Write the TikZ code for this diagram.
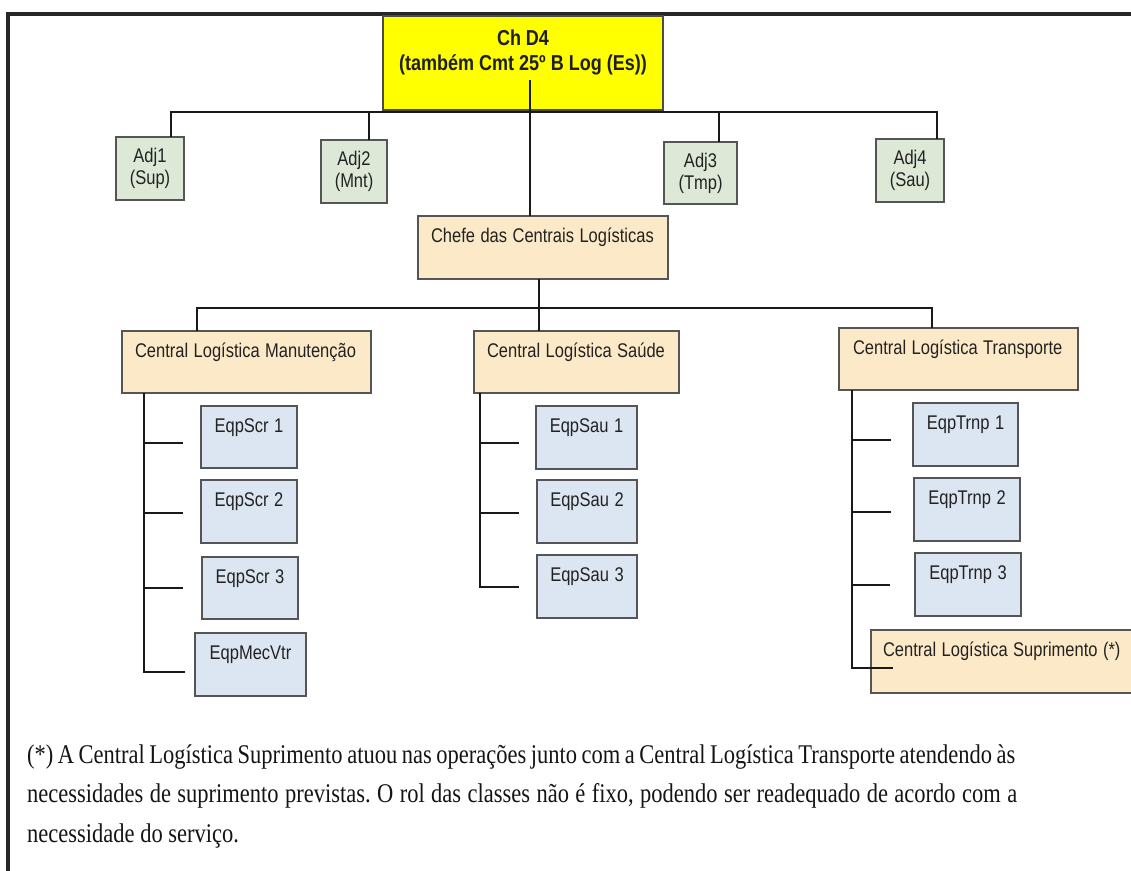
\documentclass[tikz,border=0pt]{standalone}
\usepackage{fontspec}
\setmainfont{Liberation Serif}
\newfontfamily\arialf{Liberation Sans}
\usepackage{graphicx}
\usetikzlibrary{calc}
\definecolor{ylw}{RGB}{255,255,0}
\definecolor{grn}{RGB}{221,232,214}
\definecolor{bge}{RGB}{252,233,199}
\definecolor{blu}{RGB}{220,230,242}
\definecolor{bdr}{RGB}{85,85,85}
\definecolor{txt}{RGB}{34,34,34}
\newcommand\vst[1]{\scalebox{1}[1.2]{#1}}
\newcommand\vsf[1]{\scalebox{1}[1.2]{#1}}
\frenchspacing
\begin{document}
\begin{tikzpicture}[x=1pt,y=-1pt,
  box/.style={draw=bdr, line width=1.6pt, inner sep=0pt, outer sep=0pt, anchor=north west, text=txt,
              font=\arialf\fontsize{16.5}{22}\selectfont},
  adjbox/.style={box, fill=grn, align=center},
  ctrbox/.style={box, fill=bge, inner xsep=13pt, align=left, text height=26pt},
  eqpbox/.style={box, fill=blu, align=center, text height=26pt},
  conn/.style={draw=black!90, line width=2.8pt},
  fnote/.style={anchor=base west, inner sep=0pt, text=black!92, font=\fontsize{22.5}{27}\selectfont},
]
\useasboundingbox (0,0) rectangle (1131,870);
\fill[white] (0,0) rectangle (1131,870);

% frame
\draw[line width=4pt, black!85] (8,872) -- (8,14) -- (1135,14);

% top box
\node[box, fill=ylw, draw=black!70, minimum width=280pt, minimum height=94pt] (top) at (383,16) {};
\node[anchor=north, inner sep=0pt, align=center, text=black!88,
      font=\arialf\bfseries\fontsize{18}{25}\selectfont] (topT) at (523,29.5)
      {\vst{Ch D4}\\\vst{(também Cmt 25º B Log (Es))}};

% adjuncts
\node[adjbox, minimum width=68pt, minimum height=63pt] (adj1) at (116,137) {\vst{Adj1}\\\vst{(Sup)}};
\node[adjbox, minimum width=66pt, minimum height=63pt] (adj2) at (321,140) {\vst{Adj2}\\\vst{(Mnt)}};
\node[adjbox, minimum width=73pt, minimum height=62pt] (adj3) at (664,142) {\vst{Adj3}\\\vst{(Tmp)}};
\node[adjbox, minimum width=68pt, minimum height=63pt] (adj4) at (876,139) {\vst{Adj4}\\\vst{(Sau)}};

% chief and centrals
\node[ctrbox, text width=224pt, text depth=37pt] (chefe) at (418,216) {\vst{Chefe das Centrais Logísticas}};
\node[ctrbox, text width=223pt, text depth=36pt] (clm) at (122,331) {\vst{Central Logística Manutenção}};
\node[ctrbox, text width=179pt, text depth=36pt] (cls) at (474,331) {\vst{Central Logística Saúde}};
\node[ctrbox, text width=211pt, text depth=36pt, inner xsep=14pt] (clt) at (839,328) {\vst{Central Logística Transporte}};
\node[ctrbox, text width=245pt, text depth=37pt, inner xsep=12pt] (sup) at (871,630) {\vst{Central Logística Suprimento (*)}};

% teams
\node[eqpbox, text width=96pt, text depth=36pt] (scr1) at (201,406) {\vst{EqpScr 1}};
\node[eqpbox, text width=96pt, text depth=37pt] (scr2) at (201,480) {\vst{EqpScr 2}};
\node[eqpbox, text width=96pt, text depth=36pt] (scr3) at (202,557) {\vst{EqpScr 3}};
\node[eqpbox, text width=111pt, text depth=37pt] (mec) at (195,633) {\vst{EqpMecVtr}};

\node[eqpbox, text width=101pt, text depth=37pt] (sau1) at (536,406) {\vst{EqpSau 1}};
\node[eqpbox, text width=100pt, text depth=37pt] (sau2) at (537,480) {\vst{EqpSau 2}};
\node[eqpbox, text width=100pt, text depth=37pt] (sau3) at (537,555) {\vst{EqpSau 3}};

\node[eqpbox, text width=105pt, text depth=37pt] (trp1) at (913,403) {\vst{EqpTrnp 1}};
\node[eqpbox, text width=106pt, text depth=37pt] (trp2) at (914,478) {\vst{EqpTrnp 2}};
\node[eqpbox, text width=106pt, text depth=37pt] (trp3) at (915,553) {\vst{EqpTrnp 3}};

% connectors: top level
\coordinate (topc) at (530,80);
\draw[conn] (topc) -- (topc |- chefe.north);
\coordinate (b1) at (171,112);
\coordinate (b2) at (369,112);
\coordinate (b3) at (719,112);
\coordinate (b4) at (937,112);
\draw[conn] (b1 |- adj1.north) -- (b1) -- (b4) -- (b4 |- adj4.north);
\draw[conn] (b2) -- (b2 |- adj2.north);
\draw[conn] (b3) -- (b3 |- adj3.north);

% connectors: centrals
\coordinate (c0) at (539,308);
\coordinate (c1) at (197,308);
\coordinate (c3) at (932,308);
\draw[conn] (c0 |- chefe.south) -- (c0 |- cls.north);
\draw[conn] (c1 |- clm.north) -- (c1) -- (c3) -- (c3 |- clt.north);

% tree: manutencao
\coordinate (m1) at (183,443);
\coordinate (m2) at (183,513);
\coordinate (m3) at (183,588);
\coordinate (m4) at (185,672);
\coordinate (mt) at (144,0);
\draw[conn] (mt |- clm.south) -- (mt |- m4) -- (m4);
\draw[conn] (mt |- m1) -- (m1);
\draw[conn] (mt |- m2) -- (m2);
\draw[conn] (mt |- m3) -- (m3);

% tree: saude
\coordinate (s1) at (519,443);
\coordinate (s2) at (519,513);
\coordinate (s3) at (519,587);
\coordinate (st) at (480,0);
\draw[conn] (st |- cls.south) -- (st |- s3) -- (s3);
\draw[conn] (st |- s1) -- (s1);
\draw[conn] (st |- s2) -- (s2);

% tree: transporte
\coordinate (t1) at (891,440);
\coordinate (t2) at (891,512);
\coordinate (t3) at (890,585);
\coordinate (t4) at (893,668);
\coordinate (tt) at (852,0);
\draw[conn] (tt |- clt.south) -- (tt |- t4) -- (t4);
\draw[conn] (tt |- t1) -- (t1);
\draw[conn] (tt |- t2) -- (t2);
\draw[conn] (tt |- t3) -- (t3);

% footnote
\node[fnote] (fn1) at (27,763) {\vsf{\makebox[988pt][s]{(*) A Central Logística Suprimento atuou nas operações junto com a Central Logística Transporte atendendo às}}};
\node[fnote] (fn2) at (27,802) {\vsf{\makebox[990pt][s]{necessidades de suprimento previstas. O rol das classes não é fixo, podendo ser readequado de acordo com a}}};
\node[fnote] (fn3) at (27,842) {\vsf{necessidade do serviço.}};
\end{tikzpicture}
\end{document}
